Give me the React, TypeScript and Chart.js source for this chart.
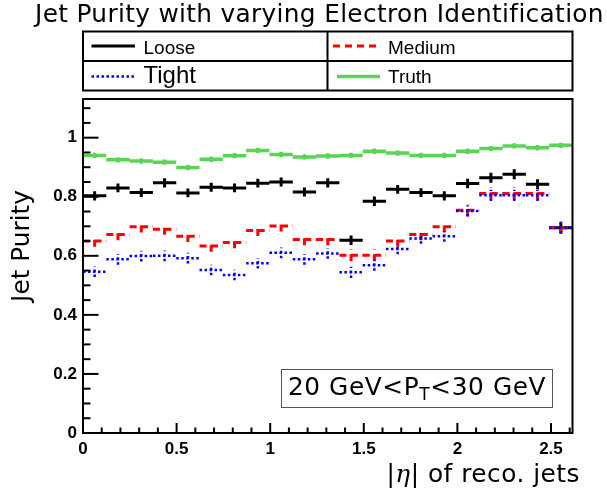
import React, { useEffect, useRef } from "react";
import { Chart, registerables } from "chart.js";

Chart.register(...registerables);

// |eta| bin edges (21 bins)
const etaEdges = [
  0, 0.1245, 0.249, 0.3736, 0.4981, 0.6226, 0.7471, 0.8717, 0.9962, 1.1207, 1.2452,
  1.3698, 1.4943, 1.6188, 1.7433, 1.8679, 1.9924, 2.1169, 2.2414, 2.366, 2.4905, 2.615,
];

const looseVals = [
  0.803, 0.83, 0.814, 0.847, 0.813, 0.832, 0.83, 0.846, 0.85, 0.816, 0.847,
  0.653, 0.785, 0.825, 0.814, 0.803, 0.845, 0.864, 0.876, 0.842, 0.695,
];
const looseErr = [
  0.016, 0.015, 0.015, 0.016, 0.015, 0.015, 0.015, 0.015, 0.015, 0.015, 0.016,
  0.016, 0.016, 0.015, 0.015, 0.016, 0.016, 0.017, 0.017, 0.017, 0.018,
];

const mediumVals = [
  0.65, 0.672, 0.698, 0.69, 0.666, 0.633, 0.645, 0.686, 0.701, 0.655, 0.655,
  0.602, 0.602, 0.65, 0.672, 0.698, 0.754, 0.811, 0.811, 0.811, 0.695,
];
const mediumErr = [
  0.019, 0.019, 0.019, 0.019, 0.019, 0.019, 0.019, 0.019, 0.019, 0.019, 0.019,
  0.02, 0.02, 0.019, 0.019, 0.019, 0.02, 0.02, 0.02, 0.02, 0.02,
];

const tightVals = [
  0.546, 0.588, 0.599, 0.6, 0.592, 0.552, 0.535, 0.575, 0.61, 0.588, 0.608,
  0.544, 0.568, 0.623, 0.659, 0.666, 0.752, 0.805, 0.805, 0.805, 0.695,
];
const tightErr = [
  0.018, 0.018, 0.018, 0.018, 0.018, 0.018, 0.018, 0.018, 0.018, 0.018, 0.018,
  0.019, 0.019, 0.018, 0.018, 0.018, 0.019, 0.019, 0.019, 0.019, 0.02,
];

const truthVals = [
  0.94, 0.925, 0.921, 0.917, 0.899, 0.927, 0.939, 0.957, 0.943, 0.935, 0.938,
  0.94, 0.954, 0.948, 0.94, 0.94, 0.954, 0.963, 0.972, 0.966, 0.974,
];
const truthErr = [
  0.009, 0.009, 0.009, 0.009, 0.009, 0.009, 0.009, 0.009, 0.009, 0.009, 0.009,
  0.009, 0.009, 0.009, 0.009, 0.009, 0.009, 0.009, 0.009, 0.009, 0.009,
];

const seriesNames = ["Loose", "Medium", "Tight", "Truth"];
const xTickLabels = ["0", "0.5", "1", "1.5", "2", "2.5"];
const yTickLabels = ["0", "0.2", "0.4", "0.6", "0.8", "1"];

const titleText = "Jet Purity with varying Electron Identification";
const yTitle = "Jet Purity";
const xTitleParts = ["|", "\u03B7", "| of reco. jets"];
const paveParts = ["20 GeV<P", "T", "<30 GeV"];

const X_MAX = 2.615;
const Y_MAX = 1.131;

const COLORS = {
  loose: "#000000",
  medium: "#ff0000",
  tight: "#0000ff",
  truth: "rgb(89,212,84)",
};

function buildSegments(vals: number[], errs: number[]) {
  const pts: { x: number; y: number | null }[] = [];
  vals.forEach((v, i) => {
    const lo = etaEdges[i];
    const hi = etaEdges[i + 1];
    const c = (lo + hi) / 2;
    pts.push({ x: lo, y: v }, { x: hi, y: v }, { x: hi, y: null });
    pts.push({ x: c, y: v - errs[i] }, { x: c, y: v + errs[i] }, { x: c, y: null });
  });
  return pts;
}

const decorPlugin = {
  id: "rootDecor",
  afterDatasetsDraw(chart: any) {
    const ctx: CanvasRenderingContext2D = chart.ctx;
    const { left, right, top, bottom } = chart.chartArea;
    const xs = chart.scales.x;
    const ys = chart.scales.y;
    ctx.save();
    ctx.strokeStyle = "#000";
    ctx.lineWidth = 2;
    ctx.setLineDash([]);
    ctx.strokeRect(left, top, right - left, bottom - top);
    // y ticks (inward)
    for (let k = 0; k * 0.05 <= Y_MAX + 1e-9; k++) {
      const v = k * 0.05;
      const py = ys.getPixelForValue(v);
      const len = k % 4 === 0 ? 15.5 : 7.5;
      ctx.beginPath();
      ctx.moveTo(left, py);
      ctx.lineTo(left + len, py);
      ctx.stroke();
    }
    // x ticks (inward)
    for (let k = 0; k * 0.1 <= X_MAX + 1e-9; k++) {
      const v = k * 0.1;
      const px = xs.getPixelForValue(v);
      const len = k % 5 === 0 ? 10 : 5.5;
      ctx.beginPath();
      ctx.moveTo(px, bottom);
      ctx.lineTo(px, bottom - len);
      ctx.stroke();
    }
    ctx.restore();
  },
  afterDraw(chart: any) {
    const ctx: CanvasRenderingContext2D = chart.ctx;
    ctx.save();
    ctx.fillStyle = "#000";
    ctx.textBaseline = "alphabetic";

    // Title
    ctx.font = '24.8px "DejaVu Sans"';
    (ctx as any).letterSpacing = "0.33px";
    ctx.textAlign = "left";
    ctx.fillText(titleText, 35, 22);
    (ctx as any).letterSpacing = "0px";

    // Legend box
    const lx0 = 83, lx1 = 572.5, ly0 = 31.5, ly1 = 90.5, lmx = 327.5, lmy = 61;
    ctx.strokeStyle = "#000";
    ctx.lineWidth = 2;
    ctx.strokeRect(lx0, ly0, lx1 - lx0, ly1 - ly0);
    ctx.beginPath();
    ctx.moveTo(lmx, ly0);
    ctx.lineTo(lmx, ly1);
    ctx.moveTo(lx0, lmy);
    ctx.lineTo(lx1, lmy);
    ctx.stroke();

    const sample = (x0: number, x1: number, y: number, color: string, w: number, dash: number[]) => {
      ctx.save();
      ctx.strokeStyle = color;
      ctx.lineWidth = w;
      ctx.setLineDash(dash);
      ctx.beginPath();
      ctx.moveTo(x0, y);
      ctx.lineTo(x1, y);
      ctx.stroke();
      ctx.restore();
    };
    sample(91.5, 135, 46, COLORS.loose, 3, []);
    sample(333, 376, 46, COLORS.medium, 3, [7, 5]);
    sample(91.5, 135, 76.5, COLORS.tight, 2.5, [2.5, 2.5]);
    sample(337, 380, 76.5, COLORS.truth, 3.5, []);

    ctx.fillStyle = "#000";
    ctx.font = '19px "Liberation Sans"';
    ctx.fillText(seriesNames[0], 143.5, 54);
    ctx.fillText(seriesNames[1], 388, 54);
    ctx.fillText(seriesNames[3], 388, 83);
    ctx.font = '24px "Liberation Sans"';
    ctx.fillText(seriesNames[2], 143.5, 83);

    // Y title
    ctx.save();
    ctx.font = '24.8px "DejaVu Sans"';
    ctx.translate(28.5, 190);
    ctx.rotate(-Math.PI / 2);
    ctx.textAlign = "right";
    ctx.fillText(yTitle, 0, 0);
    ctx.restore();

    // X title (right aligned)
    const fontN = '24.8px "DejaVu Sans"';
    const fontI = 'italic 24.8px "DejaVu Serif"';
    (ctx as any).letterSpacing = "0.5px";
    ctx.textAlign = "left";
    ctx.font = fontN;
    const w0 = ctx.measureText(xTitleParts[0]).width;
    const w2 = ctx.measureText(xTitleParts[2]).width;
    ctx.font = fontI;
    const w1 = ctx.measureText(xTitleParts[1]).width;
    let xx = 580 - (w0 + w1 + w2);
    const by = 481.5;
    ctx.font = fontN;
    ctx.fillText(xTitleParts[0], xx, by);
    xx += w0;
    ctx.font = fontI;
    ctx.fillText(xTitleParts[1], xx, by);
    xx += w1;
    ctx.font = fontN;
    ctx.fillText(xTitleParts[2], xx, by);
    (ctx as any).letterSpacing = "0px";

    // Pave text
    ctx.fillStyle = "#fff";
    ctx.fillRect(281, 369, 272, 39);
    ctx.strokeStyle = "#555";
    ctx.lineWidth = 1;
    ctx.strokeRect(281.5, 369.5, 271, 38);
    ctx.fillStyle = "#000";
    (ctx as any).letterSpacing = "0.6px";
    const fp = '24.8px "DejaVu Sans"';
    const fs = '17px "DejaVu Sans"';
    ctx.font = fp;
    const p0 = ctx.measureText(paveParts[0]).width;
    const p2 = ctx.measureText(paveParts[2]).width;
    ctx.font = fs;
    const p1 = ctx.measureText(paveParts[1]).width;
    let px = 281 + (272 - (p0 + p1 + p2)) / 2;
    const pb = 395;
    ctx.font = fp;
    ctx.fillText(paveParts[0], px, pb);
    px += p0;
    ctx.font = fs;
    ctx.fillText(paveParts[1], px, pb + 5);
    px += p1;
    ctx.font = fp;
    ctx.fillText(paveParts[2], px, pb);
    (ctx as any).letterSpacing = "0px";

    ctx.restore();
  },
};

export default function App() {
  const canvasRef = useRef<HTMLCanvasElement | null>(null);

  useEffect(() => {
    document.body.style.margin = "0";
    const canvas = canvasRef.current;
    if (!canvas) return;
    const tickFont = { family: '"Liberation Sans"', size: 17, weight: "bold" as const };
    const chart = new Chart(canvas, {
      type: "line",
      data: {
        datasets: [
          {
            label: seriesNames[2],
            data: buildSegments(tightVals, tightErr),
            borderColor: COLORS.tight,
            borderWidth: 2.5,
            borderDash: [2.5, 2.5],
            pointRadius: 0,
            spanGaps: false,
            fill: false,
            tension: 0,
            order: 1,
          },
          {
            label: seriesNames[1],
            data: buildSegments(mediumVals, mediumErr),
            borderColor: COLORS.medium,
            borderWidth: 3,
            borderDash: [7, 4.5],
            pointRadius: 0,
            spanGaps: false,
            fill: false,
            tension: 0,
            order: 2,
          },
          {
            label: seriesNames[0],
            data: buildSegments(looseVals, looseErr),
            borderColor: COLORS.loose,
            borderWidth: 3,
            pointRadius: 0,
            spanGaps: false,
            fill: false,
            tension: 0,
            order: 3,
          },
          {
            label: seriesNames[3],
            data: buildSegments(truthVals, truthErr),
            borderColor: COLORS.truth,
            borderWidth: 3.5,
            pointRadius: 0,
            spanGaps: false,
            fill: false,
            tension: 0,
            order: 4,
          },
        ] as any,
      },
      options: {
        animation: false,
        responsive: false,
        devicePixelRatio: 1,
        events: [],
        layout: { padding: { left: 0, right: 34.5, top: 99, bottom: 0 } },
        plugins: {
          legend: { display: false },
          title: { display: false },
          tooltip: { enabled: false },
        },
        scales: {
          x: {
            type: "linear",
            min: 0,
            max: X_MAX,
            afterFit: (s: any) => {
              s.height = 63;
            },
            grid: { display: false, drawTicks: false },
            border: { display: false },
            ticks: {
              stepSize: 0.5,
              includeBounds: false,
              padding: 6,
              maxRotation: 0,
              autoSkip: false,
              color: "#000",
              font: tickFont,
              callback: (_v: any, i: number) => xTickLabels[i],
            },
          },
          y: {
            type: "linear",
            min: 0,
            max: Y_MAX,
            afterFit: (s: any) => {
              s.width = 83;
            },
            grid: { display: false, drawTicks: false },
            border: { display: false },
            ticks: {
              stepSize: 0.2,
              includeBounds: false,
              padding: 6,
              autoSkip: false,
              color: "#000",
              font: tickFont,
              callback: (_v: any, i: number) => yTickLabels[i],
            },
          },
        },
      } as any,
      plugins: [decorPlugin],
    });
    return () => chart.destroy();
  }, []);

  return (
    <div style={{ width: 607, height: 496, position: "relative" }}>
      <canvas ref={canvasRef} width={607} height={496} />
    </div>
  );
}
